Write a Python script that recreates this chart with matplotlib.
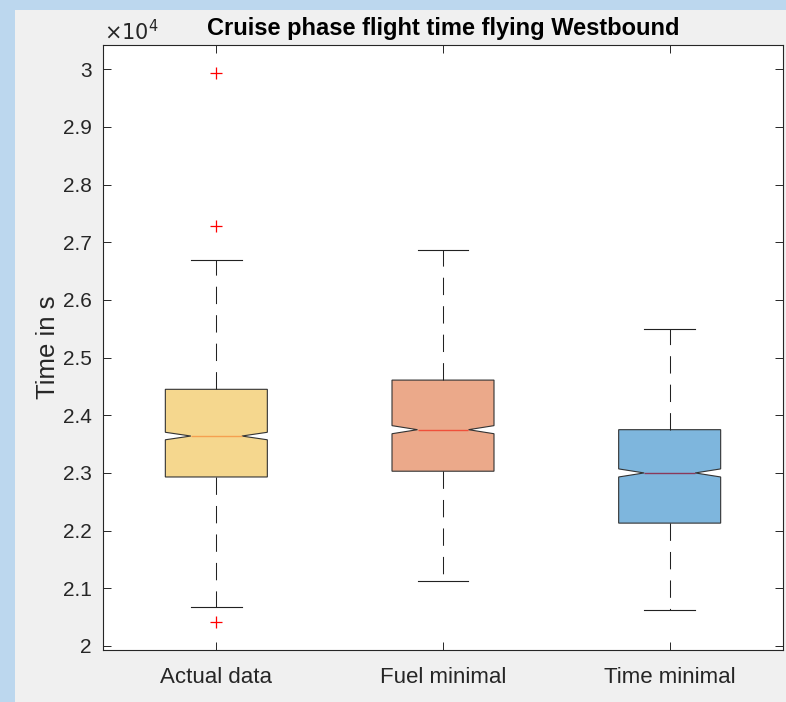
import matplotlib
matplotlib.use("Agg")
import matplotlib.pyplot as plt
from matplotlib.patches import Rectangle

categories = ["Actual data", "Fuel minimal", "Time minimal"]
# values in units of 1e4 s
whislo = [2.067, 2.112, 2.062]
q1 = [2.293, 2.303, 2.213]
med = [2.364, 2.375, 2.300]
q3 = [2.445, 2.461, 2.375]
whishi = [2.669, 2.686, 2.549]
notch_half = [0.0065, 0.007, 0.007]
fliers = [[2.993, 2.728, 2.041], [], []]
box_colors = ["#f5d78e", "#eba98a", "#7eb6dd"]
median_colors = ["#f5a050", "#f0503a", "#8a3a5a"]

plt.rcParams['font.family'] = ['Liberation Sans', 'DejaVu Sans']
plt.rcParams['lines.scale_dashes'] = False

W, H = 786, 702
fig = plt.figure(figsize=(W / 100, H / 100), dpi=100, facecolor="#bcd7ee")
fig.patches.append(Rectangle((15 / W, 0), 1 - 15 / W, 1 - 10 / H, transform=fig.transFigure,
                             facecolor="#f0f0f0", edgecolor="none", zorder=-10))

left, right, top, bottom = 103, 783, 45, 650
ax = fig.add_axes([left / W, 1 - bottom / H, (right - left) / W, (bottom - top) / H])
ax.set_facecolor("white")

stats = []
for i in range(3):
    stats.append(dict(med=med[i], q1=q1[i], q3=q3[i], whislo=whislo[i], whishi=whishi[i],
                      cilo=med[i] - notch_half[i], cihi=med[i] + notch_half[i],
                      fliers=fliers[i], label=categories[i]))

bp = ax.bxp(stats, positions=[1, 2, 3], widths=0.45, shownotches=True, patch_artist=True,
            whiskerprops=dict(color="#222222", linestyle=(0, (12.5, 8)), linewidth=0.75),
            capprops=dict(color="#222222", linewidth=0.8),
            flierprops=dict(marker="+", markeredgecolor="red", markersize=9, linestyle="none",
                            markeredgewidth=0.9))
for i, b in enumerate(bp["boxes"]):
    b.set_facecolor(box_colors[i])
    b.set_edgecolor("#333333")
    b.set_linewidth(0.8)
for i, m in enumerate(bp["medians"]):
    m.set_color(median_colors[i])
    m.set_linewidth(1.0)

ax.set_xlim(0.5, 3.5)
ax.set_ylim(1.993, 3.042)
ax.set_yticks([2, 2.1, 2.2, 2.3, 2.4, 2.5, 2.6, 2.7, 2.8, 2.9, 3])
ax.set_yticklabels(["2", "2.1", "2.2", "2.3", "2.4", "2.5", "2.6", "2.7", "2.8", "2.9", "3"])
ax.set_xticks([1, 2, 3])
ax.set_xticklabels(categories)
ax.tick_params(direction="in", length=6, width=0.7, color="#262626",
               labelcolor="#262626", top=True, right=True)
ax.tick_params(axis="y", labelsize=15, pad=8)
ax.tick_params(axis="x", labelsize=16, pad=12)
for s in ax.spines.values():
    s.set_color("#262626")
    s.set_linewidth(0.8)

ax.set_ylabel("Time in s", fontsize=18.5, color="#262626", labelpad=2)
ax.set_title("Cruise phase flight time flying Westbound", fontsize=17, fontweight="bold",
             color="black", pad=7)
fig.text(104 / W, 1 - 32 / H, r"$\times10^4$", fontsize=15, color="#262626",
         ha="left", va="center", family="DejaVu Sans")

fig.savefig("out.png", dpi=100, facecolor=fig.get_facecolor())
